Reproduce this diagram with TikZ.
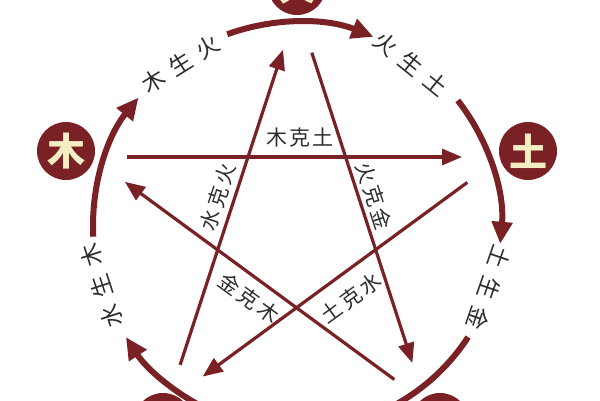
\documentclass[tikz,border=0pt]{standalone}
\usepackage{fontspec}
\newfontfamily\cjk{Noto Sans CJK SC}
\usetikzlibrary{arrows.meta}
\definecolor{zhu}{HTML}{7A2126}
\definecolor{cream}{HTML}{F4EEC4}
\definecolor{ink}{HTML}{2E2E2E}

\begin{document}
\begin{tikzpicture}
      [x=1pt,y=1pt
      ,elem/.style={circle,fill=zhu,inner sep=0,minimum size=58,text=cream,font=\cjk\bfseries\fontsize{38}{38}\selectfont}
      ,ke/.style={color=zhu,line width=3.2,-{Triangle[length=20pt,width=16pt]}}
      ,sheng/.style={color=zhu,line width=6}
      ,lab/.style={text=ink,inner sep=0,font=\cjk\fontsize{21}{21}\selectfont}
      ,arc lab/.style={lab,font=\cjk\fontsize{23}{23}\selectfont}]
        \useasboundingbox (0,0) rectangle (600,400);
        \clip (0,0) rectangle (600,400);
        \fill[white] (0,0) rectangle (600,400);
        \coordinate (O) at (297,174);
        \coordinate (T) at (297,393);
        \coordinate (L) at (91,243);
        \coordinate (R) at (502,243);
        \coordinate (BL) at (168,-2);
        \coordinate (BR) at (425,-2);
        \foreach \a/\b/\s/\e in {L/R/36/40,R/BL/43/43,BL/T/39/45,T/BR/48/41,BR/L/38/42}{
          \draw[ke,shorten <=\s pt,shorten >=\e pt] (\a) -- (\b);
        }
        \foreach \s/\e in {183/141,110/68,38/-5,245/213}{
          \draw[sheng,-{Triangle[length=22pt,width=20pt]}] (O) ++(\s:204)
                                    arc[start angle=\s,end angle=\e,radius=204];
        }
        \draw[sheng] (O) ++(-33:204) arc[start angle=-33,end angle=-64,radius=204];
        \node[elem] (huo)  at (297,414) {火};
        \node[elem] (mu)   at (66,249)  {木};
        \node[elem] (tu)   at (528,249) {土};
        \node[elem] (shui) at (163,-22) {水};
        \node[elem] (jin)  at (440,-22) {金};
        \node[lab] (mkt) at (300,262) {木\kern2pt 克\kern2pt 土};
        \node[lab,rotate=72]  (skh) at (218,203) {水\kern3pt 克\kern3pt 火};
        \node[lab,rotate=-72] (hkj) at (374,204) {火\kern3pt 克\kern3pt 金};
        \node[lab,rotate=-36] (jkm) at (249,102) {金\kern3pt 克\kern3pt 木};
        \node[lab,rotate=36]  (tks) at (351,102) {土\kern3pt 克\kern3pt 水};
        \node[arc lab,rotate=32]   (msh) at (181,336) {木\kern9pt 生\kern9pt 火};
        \node[arc lab,rotate=-39]  (hst) at (411,336) {火\kern9pt 生\kern9pt 土};
        \node[arc lab,rotate=-109] (tsj) at (489,112) {土\kern9pt 生\kern9pt 金};
        \node[arc lab,rotate=108]  (ssm) at (102,114) {水\kern9pt 生\kern9pt 木};
      \end{tikzpicture}
\end{document}
